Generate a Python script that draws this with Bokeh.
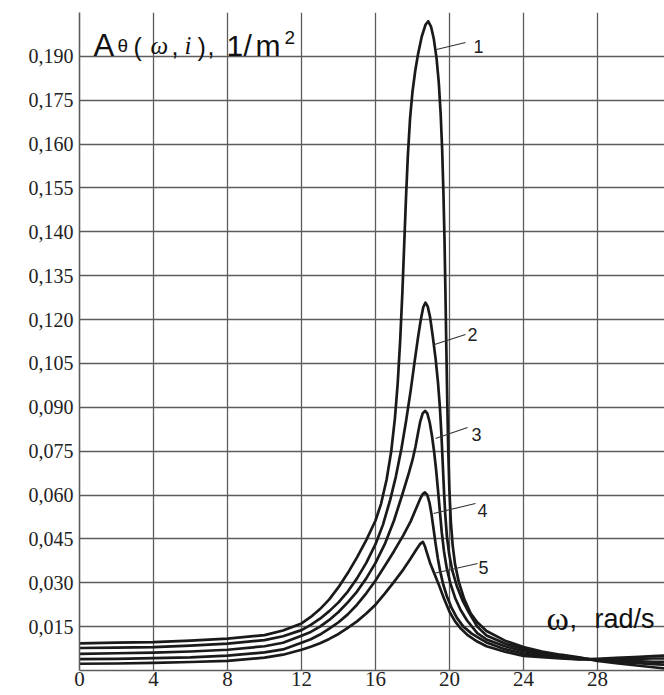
from bokeh.plotting import figure
from bokeh.models import Range1d, FixedTicker, Label, CustomJSTickFormatter
from bokeh.embed import file_html
from bokeh.resources import INLINE

# ---------------- data ----------------
tail_omega = [23, 24, 25, 26, 27, 28, 29, 30, 31, 31.7]

omega_1 = [0, 2, 4, 6, 8, 10, 11,
           12, 12.5, 13, 13.5, 14, 14.5, 15, 15.5, 16, 16.3, 16.6, 16.85, 17.05, 17.2, 17.33,
           17.45, 17.55, 17.65, 17.75, 17.87, 18.0, 18.15, 18.3, 18.5, 18.7, 18.85,
           19.0, 19.15, 19.3, 19.42, 19.52, 19.6, 19.67, 19.73, 19.78, 19.83, 19.88, 19.93,
           19.99, 20.07, 20.17, 20.3, 20.5, 20.8, 21.15, 21.5, 22] + tail_omega
amp_1 = [0.0093, 0.0095, 0.0097, 0.0102, 0.0109, 0.0121, 0.0137,
         0.0161, 0.0183, 0.0210, 0.0243, 0.0285, 0.0333, 0.0387, 0.0446, 0.0513, 0.0570,
         0.0653, 0.0750, 0.0863, 0.0983, 0.1125, 0.1290, 0.1455, 0.1620, 0.1763, 0.1890,
         0.1980, 0.2052, 0.2108, 0.2168, 0.2208, 0.2220,
         0.2202, 0.2160, 0.2093, 0.2010, 0.1905, 0.1785, 0.1635, 0.1470, 0.1290, 0.1095,
         0.0915, 0.0758, 0.0623, 0.0510, 0.0428, 0.0363, 0.0303, 0.0243, 0.0195, 0.0165,
         0.0135,
         0.0102, 0.0080, 0.0065, 0.0054, 0.0045, 0.0033, 0.0025, 0.0018, 0.0011, 0.0007]

omega_2 = [0, 2, 4, 6, 8, 10, 11,
           12, 12.5, 13, 13.5, 14, 14.5, 15, 15.5, 16, 16.4, 16.8, 17.1, 17.4, 17.65, 17.9,
           18.1, 18.3, 18.45, 18.58, 18.7,
           18.82, 18.95, 19.1, 19.25, 19.38, 19.48, 19.56, 19.63, 19.7, 19.77, 19.86, 19.98,
           20.15, 20.4, 20.7, 21.05, 21.5, 22] + tail_omega
amp_2 = [0.0077, 0.0078, 0.0080, 0.0085, 0.0092, 0.0104, 0.0117,
         0.0138, 0.0156, 0.0177, 0.0203, 0.0233, 0.0270, 0.0315, 0.0368, 0.0432, 0.0498,
         0.0585, 0.0663, 0.0758, 0.0852, 0.0957, 0.1050, 0.1140, 0.1200, 0.1242, 0.1258,
         0.1245, 0.1208, 0.1140, 0.1065, 0.0983, 0.0900, 0.0810, 0.0713, 0.0615, 0.0533,
         0.0458, 0.0398, 0.0342, 0.0288, 0.0240, 0.0198, 0.0150, 0.0120,
         0.0092, 0.0073, 0.0060, 0.0050, 0.0043, 0.0035, 0.0030, 0.0026, 0.0022, 0.0020]

omega_3 = [0, 2, 4, 6, 8, 10, 11,
           12, 12.5, 13, 13.5, 14, 14.5, 15, 15.5, 16, 16.5, 17.0, 17.44, 17.8, 18.0, 18.16,
           18.3, 18.42, 18.55, 18.68,
           18.8, 18.93, 19.05, 19.17, 19.28, 19.38, 19.48, 19.58, 19.7, 19.85, 20.05, 20.3,
           20.6, 20.95, 21.5, 22] + tail_omega
amp_3 = [0.0057, 0.0059, 0.0061, 0.0065, 0.0071, 0.0083, 0.0095,
         0.0119, 0.0132, 0.0150, 0.0173, 0.0200, 0.0233, 0.0270, 0.0315, 0.0368, 0.0432,
         0.0513, 0.0600, 0.0675, 0.0720, 0.0765, 0.0813, 0.0852, 0.0879, 0.0888,
         0.0879, 0.0848, 0.0803, 0.0747, 0.0683, 0.0615, 0.0543, 0.0473, 0.0408, 0.0350,
         0.0297, 0.0249, 0.0207, 0.0171, 0.0128, 0.0106,
         0.0083, 0.0066, 0.0056, 0.0047, 0.0041, 0.0036, 0.0034, 0.0032, 0.0030, 0.0029]

omega_4 = [0, 2, 4, 6, 8, 10, 11,
           12, 12.5, 13, 13.5, 14, 14.5, 15, 15.5, 16, 16.5, 17.0, 17.5, 17.9, 18.2, 18.4,
           18.55, 18.67,
           18.8, 18.92, 19.03, 19.14, 19.25, 19.37, 19.5, 19.66, 19.85, 20.1, 20.4, 20.75,
           21.2, 21.6, 22] + tail_omega
amp_4 = [0.0039, 0.0040, 0.0042, 0.0045, 0.0051, 0.0062, 0.0072,
         0.0095, 0.0107, 0.0123, 0.0143, 0.0165, 0.0192, 0.0225, 0.0264, 0.0308, 0.0357,
         0.0408, 0.0462, 0.0510, 0.0555, 0.0585, 0.0603, 0.0609,
         0.0600, 0.0573, 0.0533, 0.0483, 0.0432, 0.0383, 0.0338, 0.0294, 0.0255, 0.0216,
         0.0180, 0.0150, 0.0126, 0.0111, 0.0096,
         0.0073, 0.0058, 0.0050, 0.0044, 0.0039, 0.0038, 0.0039, 0.0040, 0.0041, 0.0041]

omega_5 = [0, 2, 4, 6, 8, 10, 11,
           12, 12.5, 13, 13.5, 14, 14.5, 15, 15.5, 16, 16.5, 17.0, 17.5, 17.9, 18.2, 18.4,
           18.56,
           18.68, 18.8, 18.95, 19.15, 19.4, 19.7, 20.0, 20.3, 20.6, 21, 21.5, 22] + tail_omega
amp_5 = [0.0023, 0.0024, 0.0026, 0.0029, 0.0033, 0.0044, 0.0054,
         0.0071, 0.0081, 0.0093, 0.0108, 0.0125, 0.0146, 0.0168, 0.0195, 0.0225, 0.0263,
         0.0303, 0.0345, 0.0383, 0.0413, 0.0432, 0.0440,
         0.0423, 0.0398, 0.0368, 0.0336, 0.0297, 0.0246, 0.0201, 0.0168, 0.0144, 0.0120,
         0.0099, 0.0083,
         0.0064, 0.0050, 0.0046, 0.0041, 0.0038, 0.0040, 0.0043, 0.0046, 0.0049, 0.0051]

x_ticks = [0, 4, 8, 12, 16, 20, 24, 28]
y_tick_values = [0.015, 0.030, 0.045, 0.060, 0.075, 0.090, 0.105, 0.120, 0.135, 0.150,
                 0.165, 0.180, 0.195, 0.210]
y_tick_labels = ["0,015", "0,030", "0,045", "0,060", "0,075", "0,090", "0,105", "0,120",
                 "0,135", "0,140", "0,155", "0,160", "0,175", "0,190"]
curve_names = ["1", "2", "3", "4", "5"]

# ---------------- layout ----------------
X_MAX = 31.62
Y_MAX = 0.225
FRAME_L, FRAME_T, FRAME_W, FRAME_H = 79, 12, 585, 658   # page pixels


def px(xp):
    return (xp - FRAME_L) * X_MAX / FRAME_W


def py(yp):
    return (FRAME_T + FRAME_H - yp) * Y_MAX / FRAME_H


SANS = "Liberation Sans"
SERIF = "Liberation Serif"
INK = "#1a1a1a"
GRID = "#5c5c5c"

p = figure(width=664, height=695, x_range=Range1d(0, X_MAX), y_range=Range1d(0, Y_MAX),
           output_backend="svg", toolbar_location=None, title=None,
           min_border_left=79, min_border_right=0, min_border_top=12, min_border_bottom=25)
p.outline_line_color = None
p.background_fill_color = "white"
p.border_fill_color = "white"

# axes
p.xaxis.ticker = FixedTicker(ticks=x_ticks)
p.yaxis.ticker = FixedTicker(ticks=y_tick_values)
p.yaxis.formatter = CustomJSTickFormatter(
    args=dict(labels=y_tick_labels),
    code="const i = Math.round(tick / 0.015) - 1; return (i >= 0 && i < labels.length) ? labels[i] : '';")
for ax in (p.xaxis, p.yaxis):
    ax.major_tick_line_color = None
    ax.minor_tick_line_color = None
    ax.major_tick_out = 0
    ax.major_tick_in = 0
    ax.axis_line_color = GRID
    ax.axis_line_width = 1.6
    ax.major_label_text_font = SERIF
    ax.major_label_text_color = "#222222"
p.xaxis.major_label_text_font_size = "21px"
p.xaxis.major_label_standoff = 1
p.yaxis.major_label_text_font_size = "20px"
p.yaxis.major_label_standoff = 6

p.xgrid.ticker = FixedTicker(ticks=[4, 8, 12, 16, 20, 24, 28])
p.ygrid.ticker = FixedTicker(ticks=y_tick_values + [Y_MAX])
for g in (p.xgrid, p.ygrid):
    g.grid_line_color = GRID
    g.grid_line_width = 1.3

# curves
for om, am in [(omega_1, amp_1), (omega_2, amp_2), (omega_3, amp_3), (omega_4, amp_4), (omega_5, amp_5)]:
    p.line(om, am, line_color=INK, line_width=2.7, line_join="round", line_cap="round")

# curve number labels with leader lines
leader_x0 = [px(436), px(434), px(435), px(433), px(433)]
leader_y0 = [py(49), py(344), py(438), py(513), py(573)]
leader_x1 = [px(465), px(465), px(467), px(475), px(477)]
leader_y1 = [py(42), py(334), py(427), py(503), py(563)]
p.segment(leader_x0, leader_y0, leader_x1, leader_y1, line_color="#333333", line_width=1.1)
label_left = [473, 467, 471, 477, 478]
label_base = [46, 334, 434, 510, 567]
for name, lx, ly in zip(curve_names, label_left, label_base):
    p.add_layout(Label(x=px(lx), y=py(ly), text=name, text_font=SANS, text_font_size="18px",
                       text_color="#222222", text_baseline="alphabetic", text_align="left"))

# y-axis title "Aθ (ω,i), 1/m²" inside the frame
title_parts = [
    ("A", 93, 45, SANS, "31px", "normal"),
    ("\u03b8", 117, 45, SANS, "19px", "normal"),
    ("(", 133, 46, SANS, "25px", "normal"),
    ("\u03c9", 150, 45, SERIF, "25px", "italic"),
    (",", 171, 45, SANS, "25px", "normal"),
    ("i", 184, 45, SERIF, "25px", "italic"),
    (")", 197, 46, SANS, "25px", "normal"),
    (",", 207, 45, SANS, "25px", "normal"),
    ("1", 226, 45, SANS, "30px", "normal"),
    ("/", 243, 45, SANS, "30px", "normal"),
    ("m", 255, 45, SANS, "30px", "normal"),
    ("2", 284, 37, SANS, "19px", "normal"),
]
for t, lx, ly, f, fs, st in title_parts:
    p.add_layout(Label(x=px(lx), y=py(ly), text=t, text_font=f, text_font_size=fs,
                       text_font_style=st, text_color="#111111",
                       text_baseline="alphabetic", text_align="left"))

# x-axis title "ω, rad/s"
for t, lx, f, fs in [("\u03c9", 546, SERIF, "34px"), (",", 569, SANS, "27px"), ("rad/s", 594, SANS, "27px")]:
    p.add_layout(Label(x=px(lx), y=py(618), text=t, text_font=f, text_font_size=fs,
                       text_color="#111111", text_baseline="alphabetic", text_align="left"))

open("out.html", "w").write(file_html(p, INLINE))
